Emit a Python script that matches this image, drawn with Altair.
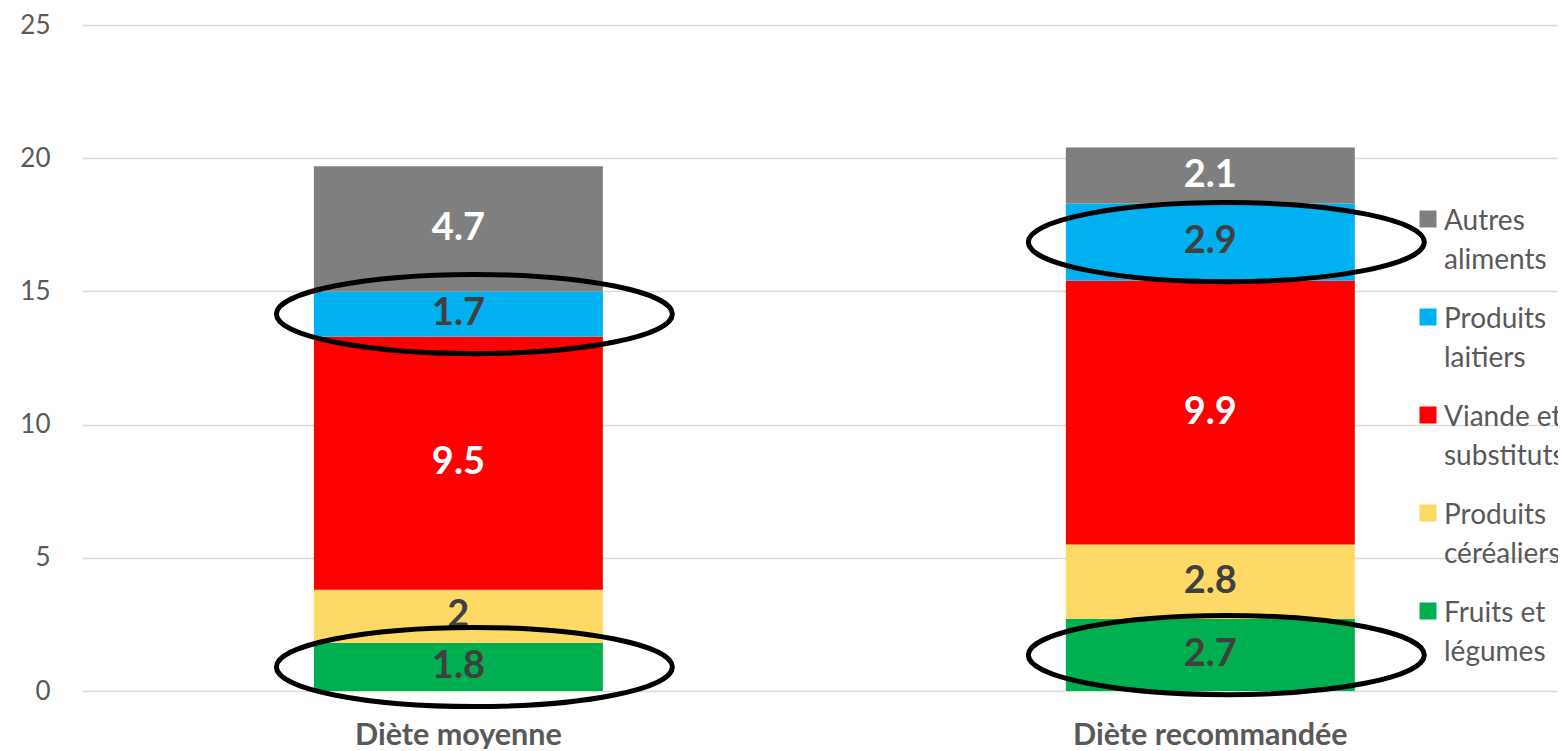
import altair as alt
import pandas as pd

diets = ["Diète moyenne", "Diète recommandée"]
categories = ["Fruits et légumes", "Produits céréaliers", "Viande et substituts",
              "Produits laitiers", "Autres aliments"]
colors = ["#00B050", "#FFD966", "#FF0000", "#00B0F0", "#7F7F7F"]
moyenne = [1.8, 2.0, 9.5, 1.7, 4.7]
recommandee = [2.7, 2.8, 9.9, 2.9, 2.1]
label_colors = ["#404040", "#404040", "#FFFFFF", "#404040", "#FFFFFF"]
circled = ["Fruits et légumes", "Produits laitiers"]
y_ticks = [0, 5, 10, 15, 20, 25]

rows = []
for diet, vals in zip(diets, [moyenne, recommandee]):
    for i, (cat, v) in enumerate(zip(categories, vals)):
        rows.append({"diete": diet, "cat": cat, "val": v, "ord": i,
                     "lab": f"{v:g}", "lcol": label_colors[i],
                     "circ": cat in circled})
df = pd.DataFrame(rows)

FONT = "Lato"
DY = -11
legend_order = list(reversed(categories))
legend_colors = list(reversed(colors))

x_enc = alt.X("diete:N", sort=diets, title=None,
              scale=alt.Scale(paddingInner=0.6157, paddingOuter=0.2893, align=0.533),
              axis=alt.Axis(labelFont=FONT, labelFontSize=30.5, labelFontWeight="bold",
                            labelColor="#595959", labelPadding=29 - DY, ticks=False,
                            domain=False, grid=False, labelAngle=0, labelLimit=500))

base = alt.Chart(df).transform_stack(
    stack="val", groupby=["diete"], as_=["y0", "y1"],
    sort=[alt.SortField("ord", order="ascending")]
).transform_calculate(mid="(datum.y0 + datum.y1) / 2")

bars = base.mark_bar().encode(
    x=x_enc,
    y=alt.Y("y0:Q", title=None,
            scale=alt.Scale(domain=[0, 25], nice=False),
            axis=alt.Axis(values=y_ticks, labelFont=FONT, labelFontSize=26,
                          labelColor="#595959", labelPadding=32, ticks=False,
                          labelOffset=-DY,
                          domain=False, gridColor="#D9D9D9", gridWidth=1.3)),
    y2="y1:Q",
    color=alt.Color("cat:N", title=None,
                    scale=alt.Scale(domain=legend_order, range=legend_colors),
                    legend=alt.Legend(orient="none", legendX=1332, legendY=180,
                                      symbolType="square", symbolSize=289,
                                      symbolStrokeWidth=0, padding=0,
                                      labelFont=FONT, labelFontSize=28,
                                      labelColor="#595959",
                                      labelBaseline="top", labelOffset=2,
                                      rowPadding=28, labelLimit=400,
                                      labelExpr="datum.label == 'Viande et substituts' ? ['Viande et', 'substituts'] : datum.label == 'Fruits et légumes' ? ['Fruits et', 'légumes'] : split(datum.label, ' ')")),
)

texts = base.mark_text(font=FONT, fontSize=38, fontWeight="bold", baseline="middle").encode(
    x=alt.X("diete:N", sort=diets),
    y=alt.Y("mid:Q"),
    text="lab:N",
    color=alt.Color("lcol:N", scale=None),
)

ellipse_path = "M -1 0 A 1 0.2 0 1 0 1 0 A 1 0.2 0 1 0 -1 0 Z"
ellipses = base.transform_filter("datum.circ").mark_point(
    shape=ellipse_path, size=156816, filled=False, stroke="black",
    strokeWidth=5, opacity=1, xOffset=16
).encode(
    x=alt.X("diete:N", sort=diets),
    y=alt.Y("mid:Q"),
)

chart = alt.layer(bars, texts, ellipses).properties(
    width=1476, height=666,
    autosize=alt.AutoSizeParams(type="none"),
    padding={"left": 74, "top": 17, "right": 0, "bottom": 58},
).configure(
    background="white",
    style={"guide-label": {"lineHeight": 39, "dy": DY}},
).configure_view(strokeWidth=0, stroke="transparent").configure_axis(
    domain=False, ticks=False
)

chart.save("out.html", embed_options={"renderer": "svg", "actions": False})
